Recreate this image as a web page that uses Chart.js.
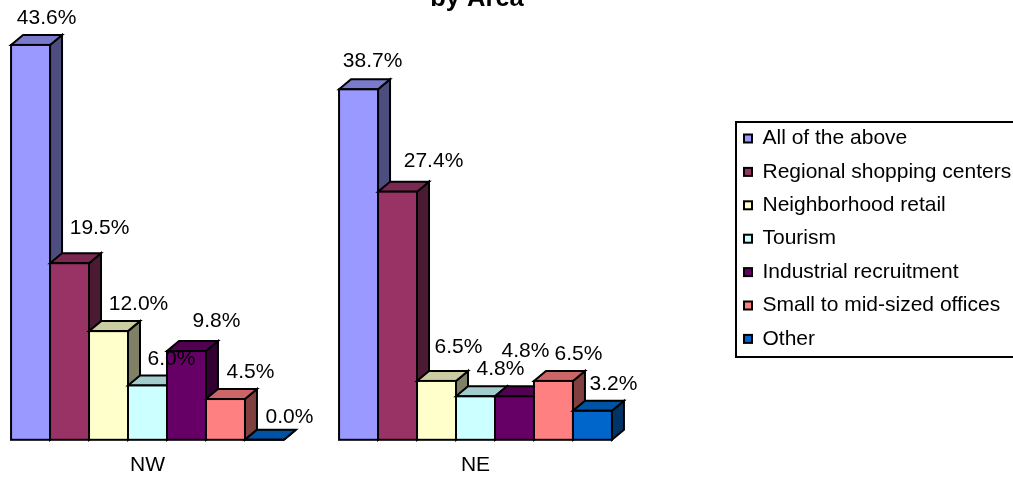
<!DOCTYPE html>
<html>
<head>
<meta charset="utf-8">
<script src="https://cdn.jsdelivr.net/npm/chart.js@4.4.0/dist/chart.umd.min.js"></script>
<style>
  body { margin: 0; background: #fff; }
  #wrap { width: 1013px; height: 478px; }
</style>
</head>
<body>
<div id="wrap"><canvas id="areaChart" width="1013" height="478"></canvas></div>
<script>
const areas = ['NW', 'NE'];
const seriesNames = [
    'All of the above',
    'Regional shopping centers',
    'Neighborhood retail',
    'Tourism',
    'Industrial recruitment',
    'Small to mid-sized offices',
    'Other'
];
const nwValues = [43.6, 19.5, 12.0, 6.0, 9.8, 4.5, 0.0];
const neValues = [38.7, 27.4, 6.5, 4.8, 4.8, 6.5, 3.2];
const seriesColors = ['#9999ff', '#993366', '#ffffcc', '#ccffff', '#660066', '#ff8080', '#0066cc'];

const FONT = '"Liberation Sans", Arial, sans-serif';
const DEPTH_X = 12, DEPTH_Y = 10;

// value labels sit up and to the right of each bar; some get pushed aside to avoid collisions
const LABEL_DX = 25, LABEL_DY = -27;
const labelNudge = {
    '0:0': [-9, 0], '1:0': [5, -8], '2:0': [5, 0], '3:0': [-1, 1], '4:0': [5, -3], '6:0': [0, 4],
    '0:1': [-11, -1], '1:1': [11, -3], '2:1': [-3, -7], '4:1': [-14, -18], '6:1': [-4, 0]
};

function shade(hex, f) {
    const n = parseInt(hex.slice(1), 16);
    const r = Math.round(((n >> 16) & 255) * f);
    const g = Math.round(((n >> 8) & 255) * f);
    const b = Math.round((n & 255) * f);
    return `rgb(${r},${g},${b})`;
}

const datasets = seriesNames.map((name, i) => ({
    label: name,
    data: [nwValues[i], neValues[i]],
    backgroundColor: seriesColors[i],
    borderWidth: 0,
    clip: false
}));

// Draws each bar as a box: side, top and front, left to right so later bars cover earlier sides
const bars3d = {
    id: 'bars3d',
    afterDatasetsDraw(chart) {
        const ctx = chart.ctx;
        ctx.save();
        ctx.lineWidth = 2;
        ctx.strokeStyle = '#000';
        chart.data.labels.forEach((_, idx) => {
            chart.data.datasets.forEach((ds, di) => {
                const bar = chart.getDatasetMeta(di).data[idx];
                const { x, y, base, width } = bar.getProps(['x', 'y', 'base', 'width'], true);
                const x0 = x - width / 2, x1 = x + width / 2;
                const color = ds.backgroundColor;

                ctx.beginPath();
                ctx.moveTo(x1, base);
                ctx.lineTo(x1 + DEPTH_X, base - DEPTH_Y);
                ctx.lineTo(x1 + DEPTH_X, y - DEPTH_Y);
                ctx.lineTo(x1, y);
                ctx.closePath();
                ctx.fillStyle = shade(color, 0.5);
                ctx.fill();
                ctx.stroke();

                ctx.beginPath();
                ctx.moveTo(x0, y);
                ctx.lineTo(x0 + DEPTH_X, y - DEPTH_Y);
                ctx.lineTo(x1 + DEPTH_X, y - DEPTH_Y);
                ctx.lineTo(x1, y);
                ctx.closePath();
                ctx.fillStyle = shade(color, 0.8);
                ctx.fill();
                ctx.stroke();

                ctx.fillStyle = color;
                ctx.fillRect(x0, y, width, base - y);
                ctx.strokeRect(x0, y, width, base - y);
            });
        });

        // value labels
        ctx.font = `21px ${FONT}`;
        ctx.fillStyle = '#000';
        ctx.textAlign = 'center';
        ctx.textBaseline = 'middle';
        chart.data.datasets.forEach((ds, di) => {
            chart.getDatasetMeta(di).data.forEach((bar, idx) => {
                const nudge = labelNudge[`${di}:${idx}`] || [0, 0];
                ctx.fillText(ds.data[idx].toFixed(1) + '%',
                    bar.x + LABEL_DX + nudge[0], bar.y + LABEL_DY + nudge[1]);
            });
        });
        ctx.restore();
    }
};

// Boxed legend on the right
const boxedLegend = {
    id: 'boxedLegend',
    afterDraw(chart) {
        const ctx = chart.ctx;
        const firstRow = 138.5, rowH = 33.4;
        ctx.save();
        ctx.lineWidth = 2;
        ctx.strokeStyle = '#000';
        ctx.strokeRect(736, 122, 320, 235);
        ctx.font = `21px ${FONT}`;
        ctx.textAlign = 'left';
        ctx.textBaseline = 'middle';
        chart.data.datasets.forEach((ds, i) => {
            const cy = firstRow + i * rowH;
            ctx.fillStyle = ds.backgroundColor;
            ctx.fillRect(744, cy - 4, 8, 8);
            ctx.strokeRect(744, cy - 4, 8, 8);
            ctx.fillStyle = '#000';
            ctx.fillText(ds.label, 762.5, cy);
        });
        ctx.restore();
    }
};

const titleText = {
    id: 'titleText',
    afterDraw(chart) {
        const ctx = chart.ctx;
        ctx.save();
        ctx.font = `bold 25.5px ${FONT}`;
        ctx.fillStyle = '#000';
        ctx.textAlign = 'center';
        ctx.textBaseline = 'alphabetic';
        ctx.fillText('by Area', 477, 6);
        ctx.restore();
    }
};

new Chart(document.getElementById('areaChart'), {
    type: 'bar',
    data: { labels: areas, datasets: datasets },
    options: {
        responsive: false,
        animation: false,
        layout: { padding: { top: 32.25, left: 147.5, right: 537.5, bottom: -13 } },
        datasets: { bar: { categoryPercentage: 0.832, barPercentage: 1 } },
        scales: {
            x: {
                offset: false,
                grid: { display: false, drawTicks: false },
                border: { display: false },
                ticks: {
                    color: '#000',
                    font: { family: FONT, size: 21 },
                    padding: 13,
                    maxRotation: 0,
                    autoSkip: false
                }
            },
            y: { display: false, min: 0, max: 45 }
        },
        plugins: {
            legend: { display: false },
            tooltip: { enabled: false }
        }
    },
    plugins: [bars3d, boxedLegend, titleText]
});
</script>
</body>
</html>
